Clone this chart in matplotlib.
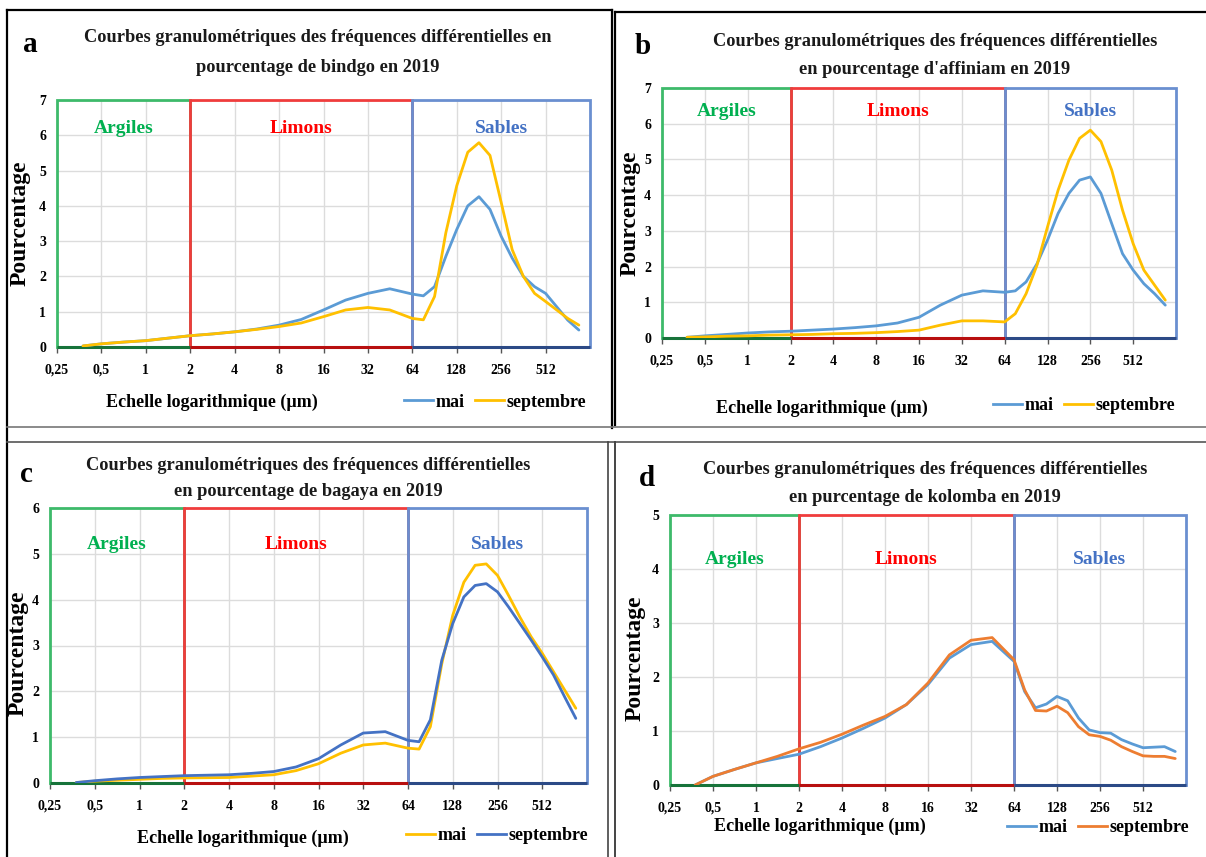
import matplotlib
matplotlib.use("Agg")
import matplotlib.pyplot as plt
from matplotlib.patches import Rectangle
from matplotlib.lines import Line2D

W, H = 1206, 857
SERIF = ["Liberation Serif", "DejaVu Serif"]

# ---------------- data ----------------
sizes_um = [0.375, 0.5, 0.71, 1, 1.41, 2, 2.83, 4, 5.66, 8, 11.3, 16, 22.6, 32, 45,
            64, 76, 90.5, 108, 128, 152, 181, 215, 256, 304, 362, 431, 512, 609, 724, 861]

tick_values = [0.25, 0.5, 1, 2, 4, 8, 16, 32, 64, 128, 256, 512]
tick_labels = ["0,25", "0,5", "1", "2", "4", "8", "16", "32", "64", "128", "256", "512"]

classes = ["Argiles", "Limons", "Sables"]
class_bounds = [(0.25, 2), (2, 64), (64, 1024)]

bindgo_mai = [0.03, 0.09, 0.14, 0.18, 0.25, 0.32, 0.37, 0.43, 0.51, 0.62, 0.78, 1.05, 1.33, 1.52, 1.65,
              1.50, 1.45, 1.71, 2.57, 3.33, 4.00, 4.26, 3.90, 3.14, 2.52, 2.00, 1.71, 1.52, 1.14, 0.76, 0.48]
bindgo_sept = [0.03, 0.09, 0.14, 0.18, 0.25, 0.32, 0.37, 0.43, 0.50, 0.58, 0.68, 0.86, 1.05, 1.12, 1.05,
               0.81, 0.77, 1.43, 3.24, 4.57, 5.52, 5.79, 5.43, 4.10, 2.76, 2.00, 1.52, 1.29, 1.05, 0.81, 0.62]

affiniam_mai = [0.02, 0.06, 0.10, 0.14, 0.17, 0.19, 0.22, 0.25, 0.29, 0.34, 0.42, 0.58, 0.92, 1.20, 1.32,
                1.28, 1.32, 1.57, 2.08, 2.74, 3.49, 4.05, 4.42, 4.51, 4.05, 3.20, 2.36, 1.90, 1.52, 1.24, 0.92]
affiniam_sept = [0.02, 0.03, 0.05, 0.06, 0.08, 0.09, 0.10, 0.12, 0.13, 0.15, 0.18, 0.22, 0.36, 0.48, 0.48,
                 0.45, 0.68, 1.24, 2.04, 3.11, 4.14, 4.98, 5.59, 5.82, 5.50, 4.70, 3.58, 2.64, 1.90, 1.48, 1.06]

bagaya_mai = [0.01, 0.04, 0.06, 0.08, 0.10, 0.11, 0.115, 0.12, 0.15, 0.18, 0.27, 0.42, 0.65, 0.83, 0.87,
              0.76, 0.74, 1.23, 2.60, 3.66, 4.38, 4.75, 4.78, 4.53, 4.09, 3.62, 3.19, 2.83, 2.43, 2.03, 1.63]
bagaya_sept = [0.01, 0.05, 0.09, 0.12, 0.14, 0.16, 0.17, 0.18, 0.21, 0.25, 0.35, 0.53, 0.83, 1.09, 1.12,
               0.93, 0.90, 1.38, 2.68, 3.48, 4.06, 4.31, 4.35, 4.17, 3.84, 3.48, 3.12, 2.75, 2.36, 1.88, 1.41]

kolomba_mai = [0.0, 0.16, 0.29, 0.41, 0.49, 0.57, 0.71, 0.87, 1.05, 1.24, 1.49, 1.86, 2.35, 2.60, 2.66,
               2.29, 1.73, 1.43, 1.50, 1.64, 1.56, 1.24, 1.02, 0.97, 0.96, 0.84, 0.76, 0.69, 0.70, 0.71, 0.62]
kolomba_sept = [0.0, 0.16, 0.29, 0.41, 0.53, 0.67, 0.79, 0.94, 1.11, 1.27, 1.49, 1.89, 2.41, 2.68, 2.73,
                2.32, 1.76, 1.38, 1.37, 1.46, 1.34, 1.08, 0.93, 0.90, 0.83, 0.71, 0.62, 0.54, 0.53, 0.53, 0.49]

# ---------------- styling ----------------
BLUE_L = "#5B9BD5"
YELLOW = "#FFC000"
BLUE_D = "#4472C4"
ORANGE = "#ED7D31"
box_colors = ["#3DBA6A", "#F03C3C", "#6A8FD0"]
bottom_colors = ["#17733A", "#B80F0F", "#2C4A86"]
text_colors = ["#00B050", "#FF0000", "#4472C4"]

fig = plt.figure(figsize=(W / 100, H / 100), dpi=100)


def fx(px):
    return px / W


def fy(py):
    return 1 - py / H


def make_panel(box, ymax, series, letter, letter_xy, title_lines, title_cx, title_ys,
               cls_y, ylabel_x, ylabel_y, xlab_xy, leg_xy):
    x0, y0, x1, y1 = box
    ax = fig.add_axes([fx(x0), fy(y1), fx(x1) - fx(x0), fy(y0) - fy(y1)])
    ax.set_xscale("log", base=2)
    ax.set_xlim(0.25, 1024)
    ax.set_ylim(0, ymax)
    ax.set_xticks(tick_values)
    ax.set_xticklabels(tick_labels)
    ax.minorticks_off()
    ax.set_yticks(range(ymax + 1))
    for s in ax.spines.values():
        s.set_visible(False)
    ax.grid(True, color="#DCDCDC", linewidth=1.0, zorder=0)
    ax.set_axisbelow(True)
    ax.tick_params(axis="x", length=4, width=1, color="#555555", pad=8)
    ax.tick_params(axis="y", length=0, pad=8)
    for lab in ax.get_xticklabels() + ax.get_yticklabels():
        lab.set_family(SERIF)
        lab.set_fontweight("bold")
        lab.set_fontsize(10)

    for i, (lo, hi) in enumerate(class_bounds):
        ax.add_patch(Rectangle((lo, 0), hi - lo, ymax, fill=False,
                               edgecolor=box_colors[i], linewidth=2.0, zorder=2,
                               clip_on=False))
        ax.plot([lo, hi], [0, 0], color=bottom_colors[i], linewidth=2.2,
                zorder=3, clip_on=False, solid_capstyle="butt")
        ax.text((lo * hi) ** 0.5, cls_y, classes[i], color=text_colors[i],
                ha="center", va="center", family=SERIF, fontweight="bold",
                fontsize=14, zorder=4)

    handles = []
    for name, vals, col in series:
        ax.plot(sizes_um, vals, color=col, linewidth=2.0, zorder=5,
                solid_capstyle="round", solid_joinstyle="round")
        handles.append(Line2D([0], [0], color=col, linewidth=2.0))
    names = [s[0] for s in series]

    ax.set_ylabel("Pourcentage", family=SERIF, fontweight="bold", fontsize=17)
    ax.yaxis.set_label_coords(ylabel_x, ylabel_y)

    fig.text(fx(xlab_xy[0]), fy(xlab_xy[1]), "Echelle logarithmique (µm)",
             family=SERIF, fontweight="bold", fontsize=13, ha="center", va="center")
    fig.legend(handles, names, loc="center",
               bbox_to_anchor=(fx(leg_xy[0]), fy(leg_xy[1])),
               ncol=2, frameon=False, handlelength=1.6, handletextpad=0.15,
               columnspacing=0.6, prop={"family": SERIF, "weight": "bold", "size": 13})

    for line, ty in zip(title_lines, title_ys):
        fig.text(fx(title_cx), fy(ty), line, family=SERIF, fontweight="bold",
                 fontsize=13.2, ha="center", va="center", color="#1a1a1a")
    fig.text(fx(letter_xy[0]), fy(letter_xy[1]), letter, family=SERIF,
             fontweight="bold", fontsize=21, ha="center", va="center")
    return ax


make_panel((57, 100, 590, 347), 7,
           [("mai", bindgo_mai, BLUE_L), ("septembre", bindgo_sept, YELLOW)],
           "a", (30, 44),
           ["Courbes granulométriques des fréquences différentielles en",
            "pourcentage de bindgo en 2019"], 318, (38, 68),
           6.2, -0.05, 0.5, (212, 402), (495, 402))

make_panel((662, 88, 1176, 338), 7,
           [("mai", affiniam_mai, BLUE_L), ("septembre", affiniam_sept, YELLOW)],
           "b", (643, 47),
           ["Courbes granulométriques des fréquences différentielles",
            "en pourcentage d'affiniam en 2019"], 935, (42, 69),
           6.35, -0.041, 0.5, (822, 408), (1084, 406))

make_panel((50, 508, 587, 783), 6,
           [("mai", bagaya_mai, YELLOW), ("septembre", bagaya_sept, BLUE_D)],
           "c", (26, 474),
           ["Courbes granulométriques des fréquences différentielles",
            "en pourcentage de bagaya en 2019"], 308, (466, 492),
           5.2, -0.039, 0.47, (243, 838), (497, 836))

make_panel((670, 515, 1186, 785), 5,
           [("mai", kolomba_mai, BLUE_L), ("septembre", kolomba_sept, ORANGE)],
           "d", (647, 478),
           ["Courbes granulométriques des fréquences différentielles",
            "en purcentage de kolomba en 2019"], 925, (469, 497),
           4.17, -0.047, 0.47, (820, 826), (1098, 828))

# ---------------- panel frames ----------------
def fline(xs, ys, color="black", lw=1.6):
    fig.add_artist(Line2D([fx(x) for x in xs], [fy(y) for y in ys],
                          color=color, linewidth=lw, transform=fig.transFigure))

fline([7, 612], [10, 10])
fline([7, 7], [10, 857])
fline([612, 612], [10, 428])
fline([615, 1206], [12, 12])
fline([615, 615], [12, 425])
fline([7, 1206], [427, 427], color="#777777", lw=1.2)
fline([7, 1206], [442, 442], color="#555555", lw=1.2)
fline([608, 608], [442, 857], color="#444444", lw=1.2)
fline([615, 615], [442, 857], color="#444444", lw=1.4)

fig.savefig("out.png", dpi=100)
